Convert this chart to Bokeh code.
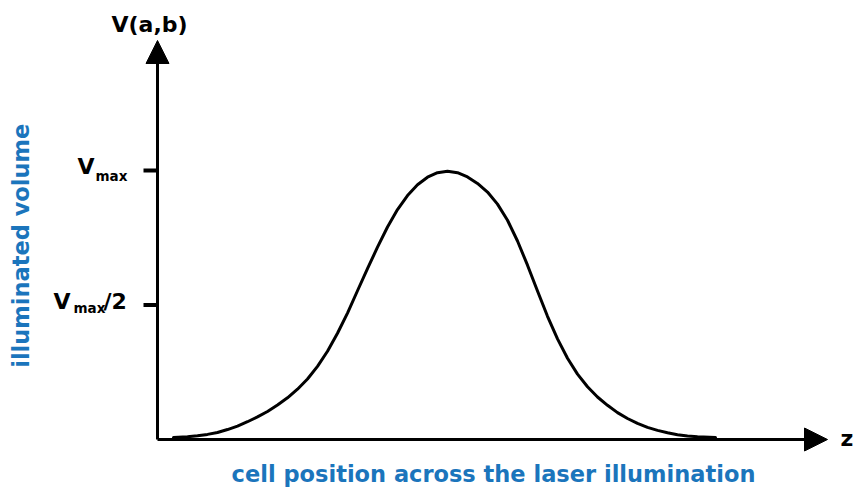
import math

from bokeh.plotting import figure
from bokeh.models import Range1d, Label, Arrow, NormalHead
from bokeh.embed import file_html
from bokeh.resources import INLINE

# Illuminated volume V(a,b) as a cell moves across the laser beam (V in units of Vmax)
z_pos = [0.16, 0.3, 0.4, 0.5, 0.6, 0.7, 0.8, 0.9, 1.0, 1.1, 1.2, 1.3, 1.4, 1.5,
         1.6, 1.7, 1.8, 1.9, 2.0, 2.1, 2.2, 2.3, 2.4, 2.5, 2.6, 2.7, 2.8, 2.9,
         3.0, 3.1, 3.2, 3.3, 3.4, 3.5, 3.6, 3.7, 3.8, 3.9, 4.0, 4.1, 4.2, 4.3,
         4.4, 4.5, 4.6, 4.7, 4.8, 4.9, 5.0, 5.1, 5.2, 5.3, 5.4, 5.58]
volume = [0.007, 0.010, 0.014, 0.019, 0.026, 0.037, 0.050, 0.066, 0.084, 0.104, 0.128, 0.155, 0.187, 0.225,
          0.272, 0.328, 0.395, 0.470, 0.553, 0.635, 0.715, 0.790, 0.855, 0.907, 0.947, 0.975, 0.992, 0.997,
          0.992, 0.976, 0.952, 0.920, 0.875, 0.815, 0.738, 0.648, 0.552, 0.458, 0.374, 0.302, 0.243, 0.196,
          0.158, 0.127, 0.100, 0.078, 0.060, 0.045, 0.034, 0.025, 0.018, 0.013, 0.010, 0.007]

# y-axis marks: Vmax and Vmax/2
tick_values = [1.0, 0.5]

Z_END = 6.70      # tip of the z axis arrow
V_TOP = 1.4833    # tip of the V axis arrow

FONT = "DejaVu Sans"
BLUE = "#1b75bc"

W, H = 854, 488
PX_Z = 100.0      # pixels per unit of z
PX_V = 269.0      # pixels per unit of V
ORIGIN_X, ORIGIN_Y = 157, 439   # where the two axes meet, in pixels from top-left

p = figure(width=W, height=H,
           x_range=Range1d(-ORIGIN_X / PX_Z, (W - ORIGIN_X) / PX_Z),
           y_range=Range1d(-(H - ORIGIN_Y) / PX_V, ORIGIN_Y / PX_V),
           output_backend="svg", toolbar_location=None,
           min_border=0, min_border_left=0, min_border_right=0,
           min_border_top=0, min_border_bottom=0)
p.axis.visible = False
p.xgrid.visible = False
p.ygrid.visible = False
p.outline_line_color = None
p.background_fill_color = "white"
p.border_fill_color = "white"

# axes drawn as arrows from the origin
head_kw = dict(size=23, fill_color="black", line_color="black", line_width=1)
p.add_layout(Arrow(end=NormalHead(**head_kw), x_start=0, y_start=0, x_end=0, y_end=V_TOP,
                   line_width=3, line_color="black"))
p.add_layout(Arrow(end=NormalHead(**head_kw), x_start=0, y_start=0, x_end=Z_END, y_end=0,
                   line_width=3, line_color="black"))

# outward tick marks at Vmax and Vmax/2
p.segment(x0=[-0.14] * len(tick_values), y0=tick_values,
          x1=[0] * len(tick_values), y1=tick_values,
          line_width=4, line_color="black")

# the bell-shaped volume curve
p.line(z_pos, volume, line_width=3, line_color="black", line_join="round", line_cap="round")


def add_text(text, x, y, dx, dy, size, align="left", baseline="alphabetic",
             color="black", angle=0.0):
    p.add_layout(Label(x=x, y=y, x_offset=dx, y_offset=dy, text=text,
                       text_align=align, text_baseline=baseline, angle=angle,
                       text_font=FONT, text_font_style="bold",
                       text_font_size=size, text_color=color))


# axis names
add_text("V(a,b)", 0, V_TOP, -8, 16, "22px", align="center")
add_text("z", Z_END, 0, 13, 1, "22px")

# tick labels: V with subscript "max"
vmax, vhalf = tick_values
add_text("V", 0, vmax, -80, 4, "22px")
add_text("max", 0, vmax, -62, -5, "13.5px")
add_text("V", 0, vhalf, -104, 4, "22px")
add_text("max", 0, vhalf, -84, -3, "13.5px")
add_text("/2", 0, vhalf, -54, 4, "22px")

# blue axis captions
add_text("illuminated volume", 0, 0.72, -137, 0, "22.5px", align="center",
         baseline="middle", color=BLUE, angle=math.pi / 2)
add_text("cell position across the laser illumination", 3.36, 0, 0, -34, "22.5px",
         align="center", color=BLUE)

open("out.html", "w").write(file_html(p, INLINE))
